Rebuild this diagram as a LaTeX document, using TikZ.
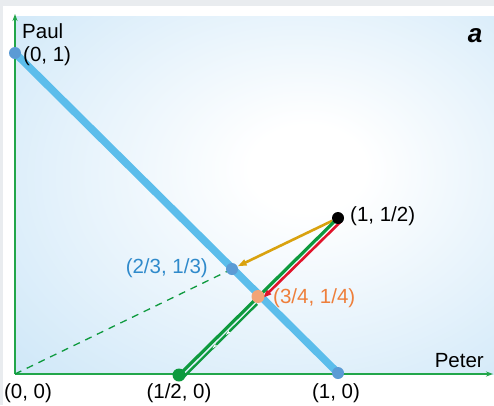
\documentclass[tikz,border=0pt]{standalone}
\usepackage{fontspec}
\setmainfont{Liberation Sans}
\usetikzlibrary{arrows.meta,decorations.markings,calc}
\definecolor{panelblue}{HTML}{C2E1F6}
\definecolor{framegrey}{HTML}{E9ECEF}
\definecolor{axisgreen}{HTML}{22A64A}
\definecolor{lgreen}{HTML}{0E9A3E}
\definecolor{lineblue}{HTML}{5CBDEB}
\definecolor{dotblue}{HTML}{5B9BD5}
\definecolor{goldc}{HTML}{D9A20F}
\definecolor{redc}{HTML}{E0142A}
\definecolor{dotorange}{HTML}{F3A476}
\definecolor{txtorange}{HTML}{EE7F3B}
\definecolor{txtblue}{HTML}{2F8ACB}
\pgfdeclareradialshading{panelshade}{\pgfpoint{6bp}{4bp}}{color(0bp)=(white); color(6bp)=(white); color(48bp)=(panelblue); color(80bp)=(panelblue)}
\tikzset{
  dot/.style={circle, inner sep=0pt, minimum size=#1},
  lbl/.style={inner sep=0pt},
}
\begin{document}
\begin{tikzpicture}[x=1pt,y=-1pt,font=\fontsize{20.5}{23}\selectfont]
\useasboundingbox (0,0) rectangle (494,405);
\fill[white] (0,0) rectangle (494,405);
\fill[framegrey] (0,0) rectangle (494,6);
\fill[framegrey] (0,0) rectangle (3,405);
\shade[shading=panelshade] (15,16) rectangle (494,374);

% positions
\coordinate (O) at (15,374);
\coordinate (ytip) at (15,14);
\coordinate (xtip) at (493,374);
\node[dot=12pt] (A) at (15,53) {};
\node[dot=12pt] (B) at (338,373) {};
\node[dot=12pt] (Q) at (232,269) {};
\node[dot=13pt] (H) at (258,296.5) {};
\node[dot=12pt] (P) at (338,218) {};
\node[dot=13pt] (G) at (179,375) {};

% axes
\draw[axisgreen, line width=1.3, -{Stealth[length=7,width=5]}] (O) -- (ytip);
\draw[axisgreen, line width=1.3, -{Stealth[length=7,width=5]}] (O) -- (xtip);

% budget line
\draw[lineblue, line width=7.5] (A.center) -- (B.center);

% dashed
\draw[lgreen, line width=1.3, dash pattern=on 7pt off 6pt] (O) -- (Q.center);

% gold arrow
\draw[goldc, line width=2.6, -{Triangle[length=9,width=6]}] (P) -- (Q);

% red arrow
\draw[redc, line width=2.6, -{Triangle[length=8,width=6]}, shorten >=3pt] ($(P.center)+(3.2,3.2)$) -- ($(H.center)+(3.2,3.2)$);

% green lines
\draw[lgreen, line width=3.2] (P.center) -- (G.center);
\draw[lgreen, line width=2.4, shorten <=6pt,
  postaction={decorate},
  decoration={markings,
    mark=at position 0.45 with {\arrow[white]{Stealth[length=6,width=3]}},
    mark=at position 0.62 with {\arrow[white]{Stealth[length=6,width=3]}}}]
  ($(H.center)+(3.3,3.3)$) -- ($(G.center)+(3.3,3.3)$);

% dots
\fill[dotblue] (A) circle (6);
\fill[dotblue] (B) circle (6);
\fill[dotblue] (Q) circle (6);
\fill[dotorange] (H) circle (6.5);
\fill[black] (P) circle (6);
\fill[lgreen] (G) circle (6.5);

% labels
\node[lbl, anchor=base west] (lpaul) at (22,38) {Paul};
\node[lbl, anchor=west] (lA) at (23,56) {(0, 1)};
\node[lbl, anchor=base, font=\fontsize{26}{28}\selectfont\bfseries\itshape] (la) at (475,42) {a};
\node[lbl, anchor=west] (lP) at (350,216) {(1, 1/2)};
\node[lbl, anchor=east, text=txtblue] (lQ) at (208,268) {(2/3, 1/3)};
\node[lbl, anchor=west, text=txtorange] (lH) at (273,298) {(3/4, 1/4)};
\node[lbl, anchor=base east] (lpeter) at (484,367) {Peter};
\node[lbl, anchor=center] (lO) at (28,393) {(0, 0)};
\node[lbl, anchor=center] (lG) at (179,393) {(1/2, 0)};
\node[lbl, anchor=center] (lB) at (336,393) {(1, 0)};
\end{tikzpicture}
\end{document}
